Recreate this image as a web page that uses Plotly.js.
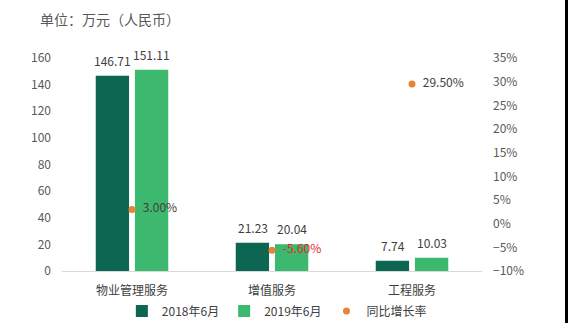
<!DOCTYPE html>
<html>
<head>
<meta charset="utf-8">
<script src="https://cdn.plot.ly/plotly-3.0.1.min.js"></script>
<style>
html,body{margin:0;padding:0;background:#000;}
#chart{width:565px;height:323px;background:#fff;}
</style>
</head>
<body>
<div id="chart"></div>
<script>
const categories = ['物业管理服务', '增值服务', '工程服务'];
const values2018 = [146.71, 21.23, 7.74];
const values2019 = [151.11, 20.04, 10.03];
const growthRate = [3.00, -5.60, 29.50];
const seriesNames = ['2018年6月', '2019年6月', '同比增长率'];

const font = "'Noto Sans CJK SC', 'Microsoft YaHei', sans-serif";

const traces = [
  {
    type: 'bar', name: seriesNames[0], x: categories, y: values2018,
    marker: {color: '#0c6652'}, hoverinfo: 'none'
  },
  {
    type: 'bar', name: seriesNames[1], x: categories, y: values2019,
    marker: {color: '#3db86f'}, hoverinfo: 'none'
  },
  {
    type: 'scatter', mode: 'markers+text', name: seriesNames[2], x: categories, y: growthRate,
    yaxis: 'y2',
    marker: {color: '#e8833a', size: 7},
    text: growthRate.map(v => '\u00a0\u00a0' + v.toFixed(2) + '%'), textposition: 'middle right',
    textfont: {size: 12, color: growthRate.map(v => v < 0 ? '#e8262b' : '#404040')},
    cliponaxis: false, hoverinfo: 'none'
  }
];

// value labels above bars, built from the data arrays
const annotations = [];
[values2018, values2019].forEach((vals, s) => {
  vals.forEach((v, i) => {
    annotations.push({
      x: categories[i], y: v, xref: 'x', yref: 'y',
      text: v.toFixed(2), showarrow: false,
      xanchor: 'center', yanchor: 'bottom',
      xshift: s === 0 ? -19.5 : 19.5, yshift: 5,
      font: {family: font, size: 12, color: '#404040'}
    });
  });
});

const layout = {
  width: 565, height: 323,
  margin: {l: 62, r: 83, t: 58, b: 52},
  paper_bgcolor: '#fff', plot_bgcolor: '#fff',
  font: {family: font, size: 12, color: '#595959'},
  title: {
    text: '单位：万元（人民币）', x: 40/565, xanchor: 'left', xref: 'container',
    y: 1 - 20/323, yanchor: 'middle', yref: 'container',
    font: {family: font, size: 14, color: '#595959'}
  },
  barmode: 'group', bargap: 0.44, bargroupgap: 0.15,
  showlegend: true,
  legend: {
    orientation: 'h', x: 0.49, xanchor: 'center', xref: 'container',
    y: 1 - 311/323, yanchor: 'middle', yref: 'container',
    font: {family: font, size: 12, color: '#404040'},
    itemwidth: 30, traceorder: 'normal'
  },
  annotations: annotations,
  xaxis: {
    type: 'category', showgrid: false, showline: true, linecolor: '#d9d9d9', linewidth: 1,
    ticks: '', tickfont: {size: 12, color: '#404040'}, zeroline: false,
    ticklabelstandoff: 9
  },
  yaxis: {
    range: [0, 160], dtick: 20, showgrid: false, showline: false, zeroline: false,
    ticks: '', tickfont: {size: 12, color: '#595959'}, ticklabelstandoff: 10
  },
  yaxis2: {
    overlaying: 'y', side: 'right', range: [-10, 35], dtick: 5, ticksuffix: '%',
    showgrid: false, showline: false, zeroline: false, ticks: '',
    tickfont: {size: 12, color: '#595959'}, ticklabelstandoff: 10
  }
};

Plotly.newPlot('chart', traces, layout, {displayModeBar: false, staticPlot: true});
</script>
</body>
</html>
